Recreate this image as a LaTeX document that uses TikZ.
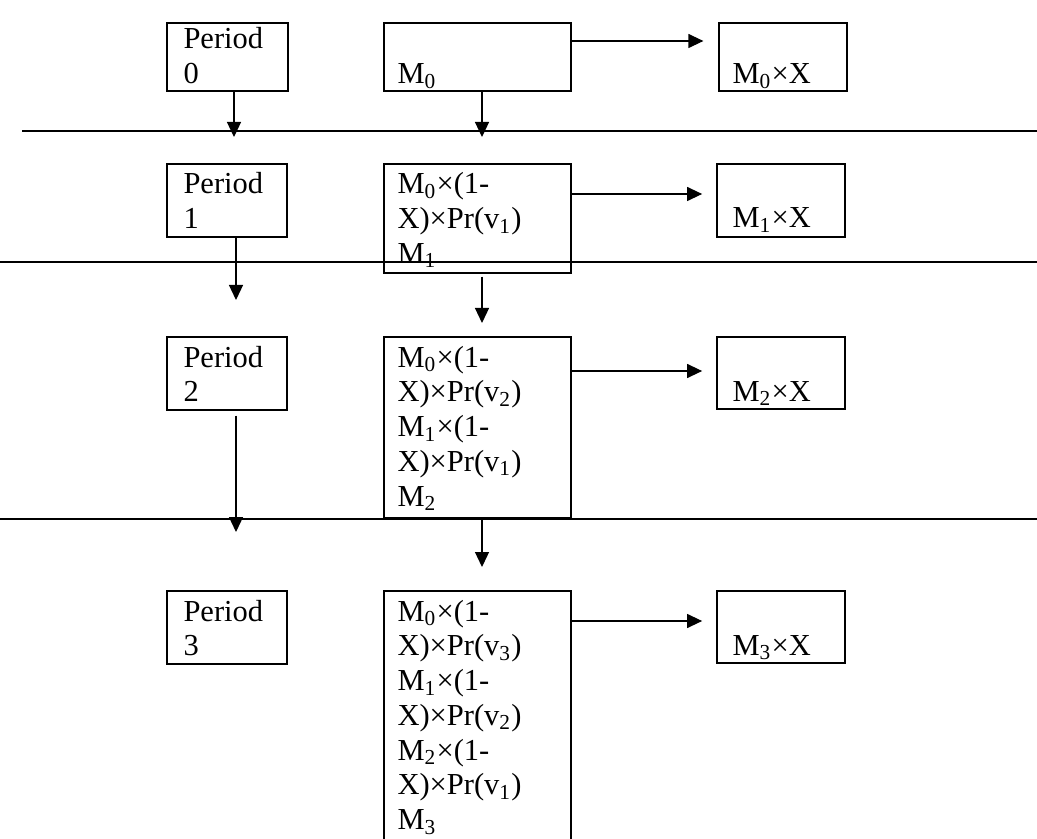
\documentclass[tikz,border=0pt]{standalone}
\usepackage{fontspec}
\setmainfont{Liberation Serif}
\usetikzlibrary{arrows.meta,fit}
\begin{document}
\begin{tikzpicture}[x=0.4pt,y=-0.4pt,
  box/.style={draw,line width=0.5pt,inner sep=0pt,rectangle},
  txt/.style={anchor=base west,inner sep=0pt,align=left,text width=80pt,
    font=\fontsize{12.2pt}{13.9pt}\selectfont},
  arr/.style={line width=0.5pt,-{Triangle[length=6pt,width=5.6pt]}},
  sep/.style={line width=0.65pt}]
\useasboundingbox (0,0) rectangle (1037,838);
\clip (0,0) rectangle (1037,838);
% boxes
\node[box,fit={(167,23)(288,91)}] (P0) {};
\node[box,fit={(384,23)(571,91)}] (M0) {};
\node[box,fit={(719,23)(847,91)}] (X0) {};
\node[box,fit={(167,164)(287,237)}] (P1) {};
\node[box,fit={(384,164)(571,273)}] (M1) {};
\node[box,fit={(717,164)(845,237)}] (X1) {};
\node[box,fit={(167,337)(287,410)}] (P2) {};
\node[box,fit={(384,337)(571,518)}] (M2) {};
\node[box,fit={(717,337)(845,409)}] (X2) {};
\node[box,fit={(167,591)(287,664)}] (P3) {};
\node[box,fit={(384,591)(571,880)}] (M3) {};
\node[box,fit={(717,591)(845,663)}] (X3) {};
% texts
\node[txt] (tP0) at (183,49) {Period\\0};
\node[txt] (tM0) at (397,84) {M\textsubscript{0}};
\node[txt] (tX0) at (732,84) {M\textsubscript{0}×X};
\node[txt] (tP1) at (183,194) {Period\\1};
\node[txt] (tM1) at (397,194) {M\textsubscript{0}×(1-\\X)×Pr(v\textsubscript{1})\\M\textsubscript{1}};
\node[txt] (tX1) at (732,228) {M\textsubscript{1}×X};
\node[txt] (tP2) at (183,367) {Period\\2};
\node[txt] (tM2) at (397,367) {M\textsubscript{0}×(1-\\X)×Pr(v\textsubscript{2})\\M\textsubscript{1}×(1-\\X)×Pr(v\textsubscript{1})\\M\textsubscript{2}};
\node[txt] (tX2) at (732,401) {M\textsubscript{2}×X};
\node[txt] (tP3) at (183,621) {Period\\3};
\node[txt] (tM3) at (397,621) {M\textsubscript{0}×(1-\\X)×Pr(v\textsubscript{3})\\M\textsubscript{1}×(1-\\X)×Pr(v\textsubscript{2})\\M\textsubscript{2}×(1-\\X)×Pr(v\textsubscript{1})\\M\textsubscript{3}};
\node[txt] (tX3) at (732,655) {M\textsubscript{3}×X};
% separator lines
\coordinate (L1a) at (22,131); \coordinate (L1b) at (1037,131);
\coordinate (L2a) at (0,262);  \coordinate (L2b) at (1037,262);
\coordinate (L3a) at (0,519);  \coordinate (L3b) at (1037,519);
\draw[sep] (L1a) -- (L1b);
\draw[sep] (L2a) -- (L2b);
\draw[sep] (L3a) -- (L3b);
% right arrows
\coordinate (r0) at (0,41);
\coordinate (r1) at (0,194);
\coordinate (r2) at (0,371);
\coordinate (r3) at (0,621);
\draw[arr,shorten >=6pt] (M0.east |- r0) -- (X0.west |- r0);
\draw[arr,shorten >=5.7pt] (M1.east |- r1) -- (X1.west |- r1);
\draw[arr,shorten >=5.7pt] (M2.east |- r2) -- (X2.west |- r2);
\draw[arr,shorten >=5.7pt] (M3.east |- r3) -- (X3.west |- r3);
% down arrows
\coordinate (d0a) at (234,137);
\coordinate (d0b) at (482,137);
\coordinate (d1a) at (236,300);
\coordinate (d1b) at (482,323);
\coordinate (d2a) at (236,532);
\coordinate (d2b) at (482,567);
\draw[arr] (P0.south -| d0a) -- (d0a);
\draw[arr] (M0.south -| d0b) -- (d0b);
\draw[arr] (P1.south -| d1a) -- (d1a);
\draw[arr,shorten <=1.2pt] (M1.south -| d1b) -- (d1b);
\draw[arr,shorten <=2pt] (P2.south -| d2a) -- (d2a);
\draw[arr] (M2.south -| d2b) -- (d2b);
\end{tikzpicture}
\end{document}
